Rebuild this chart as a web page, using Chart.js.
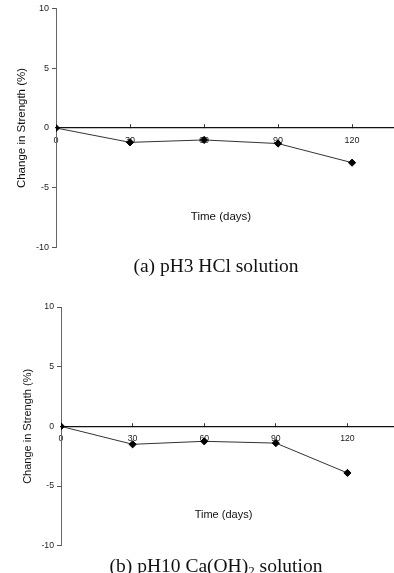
<!DOCTYPE html>
<html>
<head>
<meta charset="utf-8">
<script src="https://cdn.jsdelivr.net/npm/chart.js@4.4.1/dist/chart.umd.min.js"></script>
<style>
  html, body { margin: 0; padding: 0; background: #fff; overflow: hidden; }
  body { width: 394px; height: 573px; position: relative; }
  .plot { position: absolute; left: 0; width: 394px; height: 256px; }
  .caption {
    position: absolute; left: 0; width: 432px; text-align: center;
    font-family: "Liberation Serif", "Times New Roman", serif;
    font-size: 19.5px; line-height: 1; color: #111; white-space: nowrap;
  }
  .caption sub { font-size: 13px; vertical-align: -3px; line-height: 0; }
</style>
</head>
<body>
<div class="plot" style="top:0px"><canvas id="chartHcl"></canvas></div>
<div class="caption" style="top:256px">(a) pH3 HCl solution</div>
<div class="plot" style="top:298px"><canvas id="chartCaoh"></canvas></div>
<div class="caption" style="top:556px">(b) pH10 Ca(OH)<sub>2</sub> solution</div>

<script>
// dados
const days = [0, 30, 60, 90, 120];
const hclChange = [0, -1.2, -1.0, -1.3, -2.9];
const caohChange = [0, -1.5, -1.25, -1.4, -3.9];
const xTicks = [0, 30, 60, 90, 120];
const yTicks = [-10, -5, 0, 5, 10];

const fontSans = '"Liberation Sans", Arial, sans-serif';

// titulo do eixo x desenhado abaixo da linha do zero
const xTitlePlugin = {
    id: 'xTitle',
    afterDraw(chart, args, opts) {
        const ctx = chart.ctx;
        const x = chart.scales.x;
        const y = chart.scales.y;
        ctx.save();
        ctx.font = `${opts.size}px ${fontSans}`;
        ctx.fillStyle = '#111';
        ctx.textAlign = 'center';
        ctx.textBaseline = 'middle';
        ctx.fillText(opts.text, (x.left + x.right) / 2 - 4, y.getPixelForValue(opts.at));
        ctx.restore();
    }
};

function gerarGrafico(idCanvas, valores, cfg) {
    const pontos = days.map((d, i) => ({ x: d, y: valores[i] }));

    return new Chart(document.getElementById(idCanvas), {
        type: 'line',
        data: {
            datasets: [{
                data: pontos,
                borderColor: '#333',
                borderWidth: 1,
                pointStyle: 'rectRot',
                pointRadius: 3.6,
                pointBackgroundColor: '#000',
                pointBorderColor: '#000',
                pointBorderWidth: 1,
                tension: 0
            }]
        },
        options: {
            responsive: true,
            maintainAspectRatio: false,
            animation: false,
            layout: {
                autoPadding: false,
                padding: { top: cfg.padTop, bottom: cfg.padBottom, left: 0, right: 0 }
            },
            plugins: {
                legend: { display: false },
                tooltip: { enabled: false },
                xTitle: { text: 'Time (days)', size: cfg.titleSize, at: -7.4 }
            },
            scales: {
                x: {
                    type: 'linear',
                    min: 0,
                    max: cfg.xMax,
                    position: { y: 0 },
                    afterBuildTicks: s => { s.ticks = xTicks.map(v => ({ value: v })); },
                    afterFit: s => { s.height = 0; s.paddingLeft = 0; s.paddingRight = 0; },
                    grid: { drawOnChartArea: false, drawTicks: true, tickLength: -4, color: '#333', lineWidth: 1 },
                    border: { display: true, color: '#111', width: 1.2 },
                    ticks: {
                        padding: 11,
                        color: '#222',
                        maxRotation: 0,
                        font: { family: fontSans, size: cfg.tickSize }
                    }
                },
                y: {
                    min: -10,
                    max: 10,
                    afterBuildTicks: s => { s.ticks = yTicks.map(v => ({ value: v })); },
                    afterFit: s => { s.width = cfg.yWidth; },
                    grid: {
                        drawOnChartArea: false,
                        drawTicks: true,
                        tickLength: 4,
                        color: c => (c.tick && c.tick.value === 0) ? 'rgba(0,0,0,0)' : '#555'
                    },
                    border: { display: true, color: '#666', width: 1 },
                    ticks: {
                        padding: 3,
                        color: '#222',
                        font: { family: fontSans, size: cfg.tickSize }
                    },
                    title: {
                        display: true,
                        text: 'Change in Strength (%)',
                        color: '#111',
                        font: { family: fontSans, size: cfg.titleSize },
                        padding: { top: cfg.titlePad, bottom: 0 }
                    }
                }
            }
        },
        plugins: [xTitlePlugin]
    });
}

gerarGrafico('chartHcl', hclChange, {
    padTop: 8, padBottom: 8, xMax: 137, yWidth: 56,
    tickSize: 9, titleSize: 11.5, titlePad: 15
});

gerarGrafico('chartCaoh', caohChange, {
    padTop: 9, padBottom: 7, xMax: 139.5, yWidth: 61,
    tickSize: 8.7, titleSize: 11, titlePad: 21
});
</script>
</body>
</html>
